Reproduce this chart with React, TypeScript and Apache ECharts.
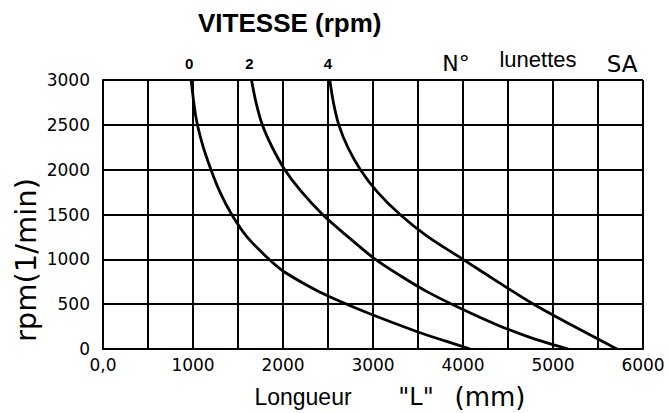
import React, { useEffect, useRef } from "react";
import * as echarts from "echarts";

const seriesNames = ["0", "2", "4"];
const lengths0 = [980, 1030, 1100, 1200, 1300, 1430, 1600, 1845, 2000, 2250, 2500, 2800, 3100, 3500, 3800, 4080];
const rpm0 = [3000, 2600, 2300, 2000, 1750, 1500, 1250, 1000, 870, 720, 590, 460, 340, 190, 90, 0];
const lengths2 = [1650, 1700, 1770, 1880, 2020, 2200, 2440, 2700, 3000, 3300, 3600, 4000, 4400, 4800, 5170];
const rpm2 = [3000, 2750, 2500, 2250, 2000, 1760, 1500, 1270, 1020, 820, 640, 440, 260, 110, 0];
const lengths4 = [2520, 2560, 2620, 2720, 2860, 3050, 3300, 3600, 4000, 4400, 4800, 5200, 5710];
const rpm4 = [3000, 2750, 2500, 2250, 2000, 1750, 1500, 1260, 1000, 740, 490, 270, 0];

const xMin = 0;
const xMax = 6000;
const xStep = 500;
const yMin = 0;
const yMax = 3000;
const yStep = 500;

const titleText = "VITESSE (rpm)";
const yName = "rpm(1/min)";

const scanFont = "DejaVu Sans";
const armFont = "Liberation Sans, Arial, sans-serif";

function buildSeries(name: string, xs: number[], ys: number[]) {
  return {
    type: "line",
    name,
    smooth: 0.3,
    showSymbol: true,
    showAllSymbol: true,
    symbol: "circle",
    symbolSize: 0,
    lineStyle: { color: "#000", width: 2.8 },
    itemStyle: { color: "#000" },
    data: xs.map((x, i) =>
      i === 0
        ? {
            value: [x, ys[i]],
            label: {
              show: true,
              position: "top",
              distance: 9,
              offset: [-2, 0],
              formatter: name,
              fontFamily: armFont,
              fontWeight: "bold",
              fontSize: 15,
              color: "#000",
            },
          }
        : { value: [x, ys[i]] }
    ),
  };
}

export default function App() {
  const ref = useRef<HTMLDivElement>(null);
  useEffect(() => {
    if (!ref.current) return;
    const chart = echarts.init(ref.current, null, { renderer: "svg" });
    chart.setOption({
      animation: false,
      backgroundColor: "#fff",
      title: {
        text: titleText,
        left: 193,
        top: 5,
        textStyle: { fontFamily: armFont, fontWeight: "bold", fontSize: 26, color: "#000" },
      },
      grid: { left: 103, right: 25, top: 80, bottom: 64 },
      xAxis: {
        type: "value",
        min: xMin,
        max: xMax,
        interval: xStep,
        axisLine: { lineStyle: { color: "#000", width: 2 } },
        axisTick: { show: false },
        splitLine: { show: true, lineStyle: { color: "#000", width: 2 } },
        axisLabel: {
          margin: 7,
          fontFamily: scanFont,
          fontSize: 17,
          color: "#000",
          formatter: (v: number) => (v % 1000 === 0 ? (v === 0 ? "0,0" : String(v)) : ""),
        },
      },
      yAxis: {
        type: "value",
        min: yMin,
        max: yMax,
        interval: yStep,
        axisLine: { show: true, lineStyle: { color: "#000", width: 2 } },
        axisTick: { show: false },
        splitLine: { show: true, lineStyle: { color: "#000", width: 2 } },
        axisLabel: {
          margin: 13,
          fontFamily: scanFont,
          fontSize: 17,
          color: "#000",
          formatter: (v: number) => String(v),
        },
      },
      graphic: [
        {
          type: "text",
          x: 26,
          y: 260,
          rotation: Math.PI / 2,
          style: {
            text: yName,
            font: `29px ${scanFont}`,
            fill: "#000",
            textAlign: "center",
            textVerticalAlign: "middle",
          },
        },
        {
          type: "text",
          x: 456,
          y: 63,
          style: { text: "N°", font: `22px ${scanFont}`, fill: "#000", textAlign: "center", textVerticalAlign: "middle" },
        },
        {
          type: "text",
          x: 538,
          y: 59,
          style: { text: "lunettes", font: `22px ${armFont}`, fill: "#000", textAlign: "center", textVerticalAlign: "middle" },
        },
        {
          type: "text",
          x: 622,
          y: 64,
          style: { text: "SA", font: `23px ${scanFont}`, fill: "#000", textAlign: "center", textVerticalAlign: "middle" },
        },
        {
          type: "text",
          x: 303,
          y: 397,
          style: { text: "Longueur", font: `23px ${armFont}`, fill: "#000", textAlign: "center", textVerticalAlign: "middle" },
        },
        {
          type: "text",
          x: 416,
          y: 397,
          style: { text: "\"L\"", font: `24px ${scanFont}`, fill: "#000", textAlign: "center", textVerticalAlign: "middle" },
        },
        {
          type: "text",
          x: 490,
          y: 397,
          style: { text: "(mm)", font: `26px ${scanFont}`, fill: "#000", textAlign: "center", textVerticalAlign: "middle" },
        },
      ],
      series: [
        buildSeries(seriesNames[0], lengths0, rpm0),
        buildSeries(seriesNames[1], lengths2, rpm2),
        buildSeries(seriesNames[2], lengths4, rpm4),
      ],
    });
    return () => chart.dispose();
  }, []);
  return (
    <div
      ref={ref}
      style={{ position: "absolute", left: 0, top: 0, width: 668, height: 413 }}
    />
  );
}
